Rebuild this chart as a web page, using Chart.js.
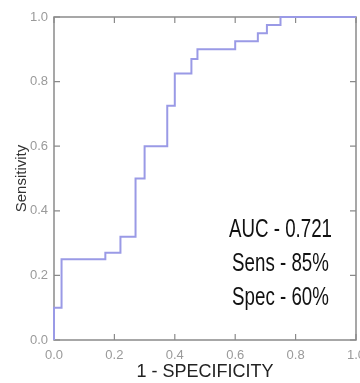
<!DOCTYPE html>
<html>
<head>
<meta charset="utf-8">
<script src="https://cdn.jsdelivr.net/npm/chart.js@4/dist/chart.umd.min.js"></script>
<style>
html,body{margin:0;padding:0;background:#fff;}
#wrap{width:360px;height:383px;position:relative;}
</style>
</head>
<body>
<div id="wrap"><canvas id="c" width="360" height="383"></canvas></div>
<script>
// ROC operating points (1 - specificity, sensitivity)
const fprValues  = [0, 0, 0.025, 0.17, 0.22, 0.27, 0.30, 0.375, 0.40, 0.455, 0.475, 0.60, 0.675, 0.705, 0.75, 1.0];
const sensValues = [0, 0.1, 0.25, 0.27, 0.32, 0.50, 0.60, 0.725, 0.825, 0.87, 0.90, 0.925, 0.95, 0.975, 1.0, 1.0];
const tickValues = [0, 0.2, 0.4, 0.6, 0.8, 1.0];
const annotationLines = ['AUC - 0.721', 'Sens - 85%', 'Spec - 60%'];
const annotationX = 0.75;
const annotationY = [0.34, 0.235, 0.13];

const points = fprValues.map((x, i) => ({x: x, y: sensValues[i]}));
const AXIS = '#8a8a8a';

const framePlugin = {
  id: 'frame',
  beforeDatasetsDraw(chart) {
    const {ctx, chartArea: a, scales} = chart;
    ctx.save();
    ctx.strokeStyle = AXIS;
    ctx.lineWidth = 1.5;
    ctx.strokeRect(a.left, a.top, a.right - a.left, a.bottom - a.top);
    ctx.lineWidth = 1.2;
    const L = 6;
    tickValues.forEach(v => {
      const px = scales.x.getPixelForValue(v);
      const py = scales.y.getPixelForValue(v);
      ctx.beginPath();
      ctx.moveTo(px, a.bottom); ctx.lineTo(px, a.bottom - L);
      ctx.moveTo(px, a.top); ctx.lineTo(px, a.top + L);
      ctx.moveTo(a.left, py); ctx.lineTo(a.left + L, py);
      ctx.moveTo(a.right, py); ctx.lineTo(a.right - L, py);
      ctx.stroke();
    });
    ctx.restore();
  },
  afterDraw(chart) {
    const {ctx, scales} = chart;
    ctx.save();
    ctx.fillStyle = '#111';
    ctx.font = '26px "Liberation Sans", Arial, sans-serif';
    ctx.textAlign = 'center';
    ctx.textBaseline = 'middle';
    const cx = scales.x.getPixelForValue(annotationX);
    annotationLines.forEach((t, i) => {
      const cy = scales.y.getPixelForValue(annotationY[i]);
      ctx.save();
      ctx.translate(cx, cy);
      ctx.scale(0.72, 1);
      ctx.fillText(t, 0, 0);
      ctx.restore();
    });
    ctx.restore();
  }
};

new Chart(document.getElementById('c'), {
  type: 'scatter',
  data: {
    datasets: [{
      data: points,
      showLine: true,
      stepped: 'before',
      borderColor: '#9a9ae6',
      borderWidth: 2,
      pointRadius: 0,
      fill: false,
      clip: 4
    }]
  },
  options: {
    responsive: false,
    animation: false,
    events: [],
    layout: {padding: {top: 17, right: 4, left: 13, bottom: 0}},
    plugins: {legend: {display: false}, tooltip: {enabled: false}},
    scales: {
      x: {
        type: 'linear', min: 0, max: 1,
        afterBuildTicks(s) { s.ticks = tickValues.map(v => ({value: v})); },
        afterFit(s) { s.height = 43; s.paddingLeft = 0; s.paddingRight = 0; },
        grid: {display: false, drawTicks: false},
        border: {display: false},
        ticks: {
          color: '#9a9a9a', padding: 8, maxRotation: 0, autoSkip: false,
          font: {family: '"Liberation Sans", Arial, sans-serif', size: 13},
          callback: v => Number(v).toFixed(1)
        },
        title: {
          display: true, text: '1 - SPECIFICITY', color: '#222',
          font: {family: '"Liberation Sans", Arial, sans-serif', size: 18},
          padding: {top: 0, bottom: 0}
        }
      },
      y: {
        type: 'linear', min: 0, max: 1,
        afterBuildTicks(s) { s.ticks = tickValues.map(v => ({value: v})); },
        afterFit(s) { s.width = 41; s.paddingTop = 0; s.paddingBottom = 0; },
        grid: {display: false, drawTicks: false},
        border: {display: false},
        ticks: {
          color: '#9a9a9a', padding: 6,
          font: {family: '"Liberation Sans", Arial, sans-serif', size: 13},
          callback: v => Number(v).toFixed(1)
        },
        title: {
          display: true, text: 'Sensitivity', color: '#333',
          font: {family: '"Liberation Sans", Arial, sans-serif', size: 15},
          padding: {top: 0, bottom: 0}
        }
      }
    }
  },
  plugins: [framePlugin]
});
</script>
</body>
</html>
